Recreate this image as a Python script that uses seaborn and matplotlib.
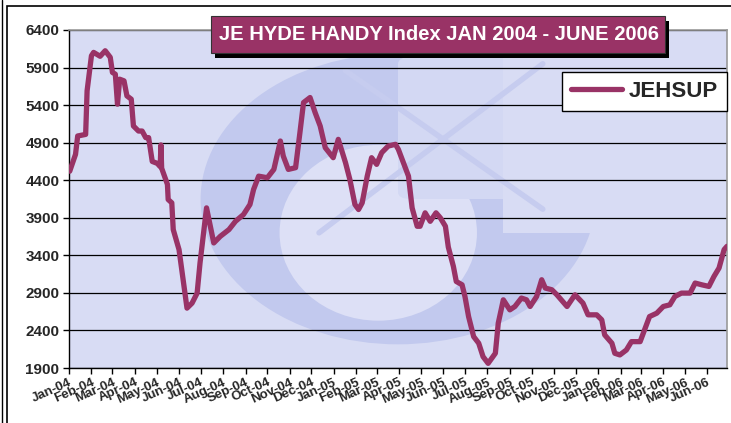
import numpy as np
import pandas as pd
import matplotlib
matplotlib.use("Agg")
import matplotlib.pyplot as plt
import matplotlib.dates as mdates
from matplotlib.patches import Rectangle, Ellipse, FancyBboxPatch
import seaborn as sns

# JEHSUP index readings
dates = [
    "2004-01-02", "2004-01-10", "2004-01-13", "2004-01-24", "2004-01-26", "2004-02-01",
    "2004-02-04", "2004-02-13", "2004-02-20", "2004-02-27", "2004-03-01", "2004-03-05",
    "2004-03-08", "2004-03-11", "2004-03-17", "2004-03-21", "2004-03-27", "2004-03-30",
    "2004-04-06", "2004-04-11", "2004-04-16", "2004-04-20", "2004-04-25", "2004-05-02",
    "2004-05-06", "2004-05-07", "2004-05-08", "2004-05-16", "2004-05-17", "2004-05-22",
    "2004-05-24", "2004-06-01", "2004-06-12", "2004-06-19", "2004-06-26", "2004-06-30",
    "2004-07-09", "2004-07-19", "2004-07-28", "2004-08-09", "2004-08-18", "2004-08-29",
    "2004-09-07", "2004-09-12", "2004-09-19", "2004-10-01", "2004-10-10", "2004-10-19",
    "2004-10-23", "2004-10-30", "2004-11-09", "2004-11-15", "2004-11-20", "2004-11-29",
    "2004-12-06", "2004-12-13", "2004-12-20", "2004-12-31", "2005-01-07", "2005-01-17",
    "2005-01-23", "2005-01-30", "2005-02-04", "2005-02-09", "2005-02-16", "2005-02-22",
    "2005-03-01", "2005-03-08", "2005-03-17", "2005-03-27", "2005-03-31", "2005-04-07",
    "2005-04-14", "2005-04-19", "2005-04-26", "2005-04-30", "2005-05-07", "2005-05-14",
    "2005-05-22", "2005-05-28", "2005-06-04", "2005-06-08", "2005-06-15", "2005-06-19",
    "2005-06-27", "2005-07-01", "2005-07-06", "2005-07-13", "2005-07-20", "2005-07-26",
    "2005-08-02", "2005-08-12", "2005-08-16", "2005-08-23", "2005-09-01", "2005-09-08",
    "2005-09-17", "2005-09-24", "2005-09-29", "2005-10-08", "2005-10-15", "2005-10-20",
    "2005-10-29", "2005-11-05", "2005-11-19", "2005-11-30", "2005-12-11", "2005-12-18",
    "2005-12-30", "2006-01-06", "2006-01-10", "2006-01-20", "2006-01-24", "2006-01-31",
    "2006-02-09", "2006-02-16", "2006-02-28", "2006-03-07", "2006-03-13", "2006-03-23",
    "2006-04-01", "2006-04-10", "2006-04-17", "2006-04-26", "2006-05-08", "2006-05-15",
    "2006-05-24", "2006-06-03", "2006-06-10", "2006-06-17", "2006-06-24", "2006-06-28",
]
jehsup = [
    4520, 4744, 4989, 5010, 5590, 6057,
    6102, 6050, 6124, 6036, 5835, 5812,
    5412, 5745, 5723, 5523, 5479, 5122,
    5055, 5055, 4967, 4967, 4650, 4624,
    4580, 4870, 4560, 4344, 4143, 4099,
    3743, 3476, 2697, 2764, 2897, 3298,
    4032, 3565, 3653, 3743, 3853, 3943,
    4077, 4277, 4454, 4433, 4544, 4922,
    4722, 4544, 4567, 5033, 5434, 5501,
    5301, 5122, 4833, 4700, 4944, 4633,
    4410, 4077, 4010, 4099, 4454, 4700,
    4611, 4767, 4855, 4878, 4811, 4633,
    4454, 4032, 3787, 3787, 3966, 3853,
    3966, 3899, 3787, 3510, 3253, 3052,
    3008, 2852, 2585, 2318, 2230, 2051,
    1962, 2096, 2497, 2808, 2674, 2719,
    2831, 2808, 2719, 2852, 3075, 2964,
    2942, 2875, 2719, 2875, 2764, 2608,
    2608, 2541, 2341, 2230, 2096, 2074,
    2140, 2251, 2251, 2430, 2585, 2630,
    2719, 2741, 2852, 2897, 2897, 3031,
    3008, 2986, 3119, 3231, 3476, 3520,
]
y_ticks = [1900, 2400, 2900, 3400, 3900, 4400, 4900, 5400, 5900, 6400]
title = "JE HYDE HANDY Index JAN 2004 - JUNE 2006"
series_name = "JEHSUP"

df = pd.DataFrame({"date": pd.to_datetime(dates), "value": jehsup})

sns.set_theme(style="white")
plt.rcParams["font.family"] = ["Liberation Sans", "DejaVu Sans"]

LINE = "#993366"
BG = "#D8DCF4"
W, H = 731, 423
fig = plt.figure(figsize=(W / 100, H / 100), dpi=100)
ax = fig.add_axes([69 / W, 1 - 368 / H, 658 / W, 338 / H])
ax.set_facecolor(BG)

# faint watermark logo behind the data
ax.add_patch(Ellipse((0.50, 0.50), 0.60, 0.86, transform=ax.transAxes,
                     facecolor="#C2C9EE", edgecolor="none", zorder=0))
ax.add_patch(Ellipse((0.47, 0.40), 0.30, 0.52, transform=ax.transAxes,
                     facecolor="#DDE0F6", edgecolor="none", zorder=0))
ax.add_patch(FancyBboxPatch((0.52, 0.52), 0.22, 0.38, boxstyle="round,pad=0.02",
                            transform=ax.transAxes, facecolor="#D3D8F3",
                            edgecolor="none", zorder=0))
ax.add_patch(Rectangle((0.66, 0.40), 0.40, 0.62, transform=ax.transAxes,
                       facecolor=BG, edgecolor="none", zorder=0))
ax.plot([0.38, 0.72], [0.40, 0.90], transform=ax.transAxes, color="#C6CCEF", lw=4, zorder=0)
ax.plot([0.42, 0.72], [0.88, 0.47], transform=ax.transAxes, color="#C6CCEF", lw=4, zorder=0)

sns.lineplot(data=df, x="date", y="value", ax=ax, color=LINE, linewidth=3.8,
             label=series_name, zorder=3)

ax.set_ylim(1900, 6400)
ax.set_yticks(y_ticks)
ax.set_xlim(pd.Timestamp("2004-01-01"), pd.Timestamp("2006-06-28"))
ax.xaxis.set_major_locator(mdates.MonthLocator())
ax.xaxis.set_major_formatter(mdates.DateFormatter("%b-%y"))
ax.grid(axis="y", color="black", linewidth=0.9, zorder=1)
ax.set_axisbelow(True)
ax.set_xlabel("")
ax.set_ylabel("")

for side in ["top", "right"]:
    ax.spines[side].set_color("#999999")
    ax.spines[side].set_linewidth(1.2)
for side in ["left", "bottom"]:
    ax.spines[side].set_color("black")
    ax.spines[side].set_linewidth(1.0)

ax.tick_params(axis="both", direction="out", length=4, width=1, color="black",
               bottom=True, left=True)
ax.tick_params(axis="y", labelsize=11, pad=3)
ax.tick_params(axis="x", labelsize=9.5, pad=2)
for lab in ax.get_yticklabels():
    lab.set_fontweight("bold")
for lab in ax.get_xticklabels():
    lab.set_fontweight("bold")
    lab.set_rotation(24)
    lab.set_ha("right")
    lab.set_va("top")
    lab.set_rotation_mode("anchor")

leg = ax.legend(loc="upper right", bbox_to_anchor=(1.0, 0.876), borderaxespad=0,
                fancybox=False, framealpha=1, edgecolor="black", handlelength=2.3,
                handletextpad=0.3, borderpad=0.4, prop={"weight": "bold", "size": 16})
leg.get_frame().set_linewidth(1.0)

# title box with drop shadow
fig.patches.append(Rectangle((215 / W, 1 - 58 / H), 454 / W, 37 / H, transform=fig.transFigure,
                             facecolor="black", edgecolor="none", zorder=5))
fig.patches.append(Rectangle((211 / W, 1 - 53 / H), 454 / W, 37 / H, transform=fig.transFigure,
                             facecolor=LINE, edgecolor="#333333", linewidth=0.8, zorder=6))
fig.text(439 / W, 1 - 35 / H, title, ha="center", va="center", color="white",
         fontsize=14.5, fontweight="bold", zorder=7)

# outer chart frame
fig.patches.append(Rectangle((7 / W, -0.05), 1.0, 1 - 6 / H + 0.05, transform=fig.transFigure,
                             facecolor="none", edgecolor="black", linewidth=1.2, zorder=8))
fig.lines.append(plt.Line2D([2 / W, 2 / W], [0, 1], transform=fig.transFigure,
                            color="black", linewidth=1.0))

fig.savefig("out.png", dpi=100)
